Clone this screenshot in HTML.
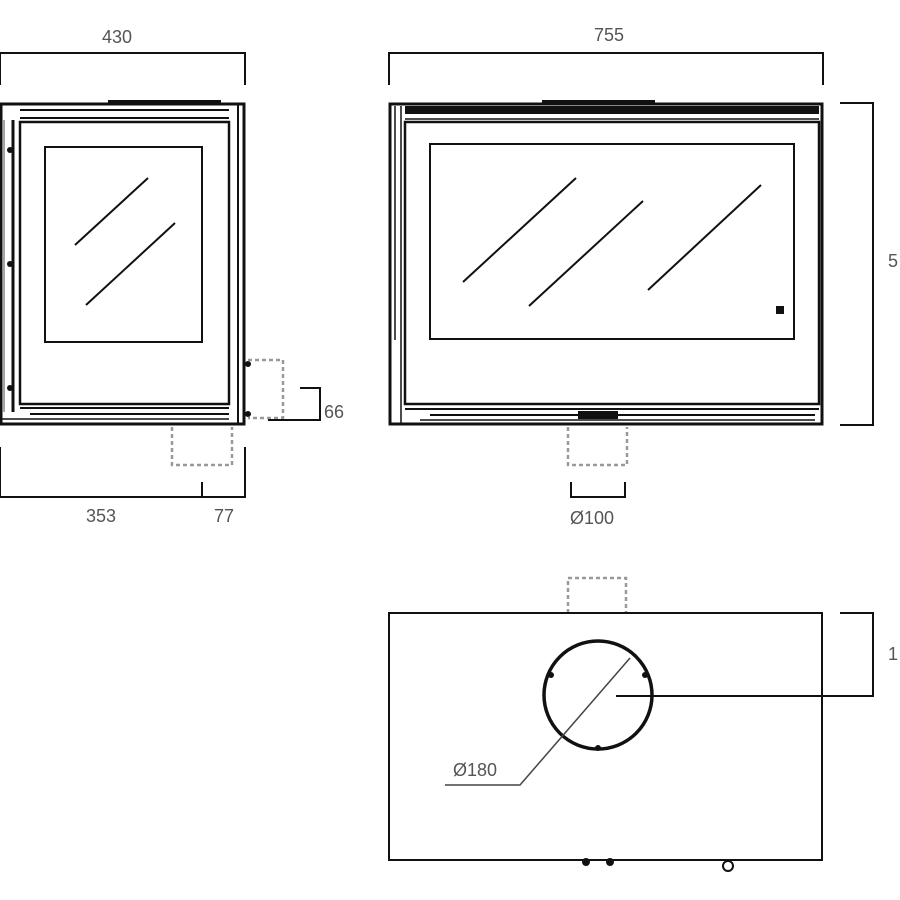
<!DOCTYPE html><html><head><style>body{margin:0;background:#fff}svg{display:block}text{font-family:"Liberation Sans",sans-serif;font-size:18px;fill:#555}</style></head><body>
<svg width="900" height="900" viewBox="0 0 900 900" xmlns="http://www.w3.org/2000/svg">
<g fill="none" stroke="#111">
<!-- left view -->
<rect x="1" y="104" width="243" height="320" stroke-width="3"/>
<rect x="108" y="100" width="113" height="4" fill="#111" stroke="none"/>
<line x1="20" y1="110" x2="229" y2="110" stroke-width="2"/>
<line x1="20" y1="118" x2="229" y2="118" stroke-width="2"/>
<rect x="20" y="122" width="209" height="282" stroke-width="2.5"/>
<line x1="238" y1="104" x2="238" y2="424" stroke-width="2"/>
<line x1="13" y1="120" x2="13" y2="412" stroke-width="3"/>
<line x1="4" y1="120" x2="4" y2="412" stroke-width="1.5" stroke="#888"/>
<line x1="20" y1="408" x2="229" y2="408" stroke-width="2"/>
<line x1="30" y1="414" x2="229" y2="414" stroke-width="2"/>
<line x1="0" y1="419" x2="229" y2="419" stroke-width="1.5"/>
<rect x="45" y="147" width="157" height="195" stroke-width="2"/>
<line x1="75" y1="245" x2="148" y2="178" stroke-width="2"/>
<line x1="86" y1="305" x2="175" y2="223" stroke-width="2"/>
<g fill="#111" stroke="none"><circle cx="10" cy="150" r="3"/><circle cx="10" cy="264" r="3"/><circle cx="10" cy="388" r="3"/><circle cx="248" cy="364" r="3"/><circle cx="248" cy="414" r="3"/></g>
<g stroke="#999" stroke-width="2.5" stroke-dasharray="4 3">
<path d="M248 360 H283 V418 H248"/>
<path d="M172 427 V465 H232 V427"/>
<path d="M568 427 V465 H627 V427"/>
<path d="M568 613 V578 H626 V613"/>
</g>
<g stroke-width="2">
<path d="M0 85 V53 H245 V85"/>
<path d="M268 420 H320 V388 H300"/>
<path d="M0 447 V497 H245 V447 M202 497 V482"/>
<!-- right view dims -->
<path d="M389 85 V53 H823 V85"/>
<path d="M840 103 H873 V425 H840"/>
<path d="M571 482 V497 H625 V482"/>
<path d="M840 613 H873 V696 H616"/>
</g>
<!-- right view -->
<rect x="390" y="104" width="432" height="320" stroke-width="3"/>
<rect x="542" y="100" width="113" height="4" fill="#111" stroke="none"/>
<rect x="405" y="106" width="414" height="8" fill="#111" stroke="none"/>
<line x1="405" y1="119" x2="819" y2="119" stroke-width="1.5"/>
<rect x="405" y="122" width="414" height="282" stroke-width="2.5"/>
<line x1="395" y1="106" x2="395" y2="340" stroke-width="1.5"/>
<line x1="401" y1="106" x2="401" y2="424" stroke-width="1.5"/>
<line x1="405" y1="409" x2="819" y2="409" stroke-width="2"/>
<line x1="430" y1="415" x2="815" y2="415" stroke-width="2"/>
<line x1="420" y1="420" x2="815" y2="420" stroke-width="1.5"/>
<rect x="578" y="411" width="40" height="8" fill="#111" stroke="none"/>
<rect x="430" y="144" width="364" height="195" stroke-width="2"/>
<line x1="463" y1="282" x2="576" y2="178" stroke-width="2"/>
<line x1="529" y1="306" x2="643" y2="201" stroke-width="2"/>
<line x1="648" y1="290" x2="761" y2="185" stroke-width="2"/>
<rect x="776" y="306" width="8" height="8" fill="#111" stroke="none"/>
<!-- bottom view -->
<rect x="389" y="613" width="433" height="247" stroke-width="2"/>
<circle cx="598" cy="695" r="54" stroke-width="3.5"/>
<path d="M630 658 L520 785 H445" stroke-width="1.5" stroke="#444"/>
<g fill="#111" stroke="none"><circle cx="586" cy="862" r="4"/><circle cx="610" cy="862" r="4"/><circle cx="598" cy="748" r="3"/><circle cx="551" cy="675" r="3"/><circle cx="645" cy="675" r="3"/></g>
<circle cx="728" cy="866" r="5" stroke-width="2"/>
</g>
<text x="102" y="43">430</text>
<text x="594" y="41">755</text>
<text x="324" y="418">66</text>
<text x="86" y="522">353</text>
<text x="214" y="522">77</text>
<text x="570" y="524">Ø100</text>
<text x="888" y="267">5</text>
<text x="888" y="660">1</text>
<text x="453" y="776">Ø180</text>
</svg></body></html>
